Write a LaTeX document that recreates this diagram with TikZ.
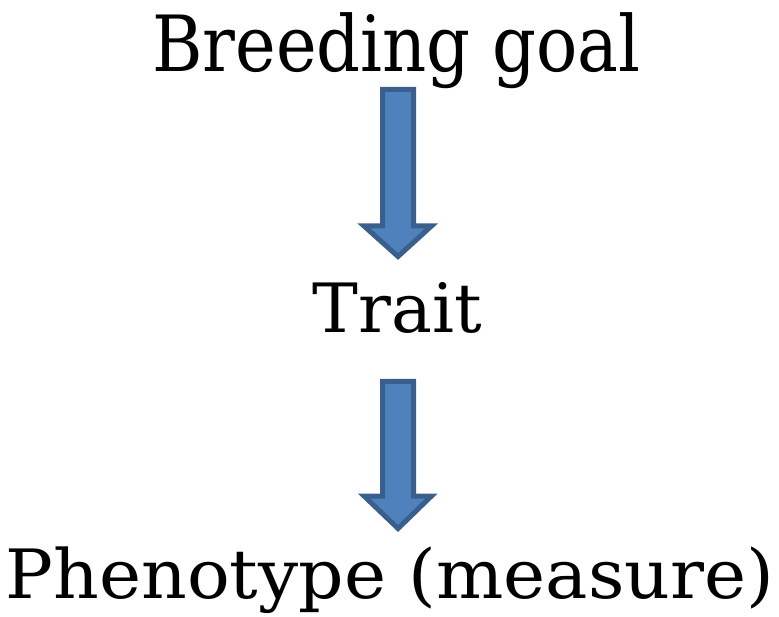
\documentclass[tikz,border=0pt]{standalone}
\usepackage{fontspec}
\setmainfont{DejaVu Serif}
\definecolor{arrowfill}{HTML}{4F81BD}
\definecolor{arrowline}{HTML}{3A5F8D}
\begin{document}
\begin{tikzpicture}[x=1pt,y=-1pt,
  label/.style={inner sep=0pt,anchor=base,font=\fontsize{68}{80}\selectfont},
  blockarrow/.style={fill=arrowfill,draw=arrowline,line width=5pt,line join=miter}]
\useasboundingbox (0,0) rectangle (779,617);
% labels
\node[label,xscale=1.01,yscale=1.14] (goal) at (396.5,71.5) {Breeding goal};
\node[label,xscale=1.01] (trait) at (397.5,333) {Trait};
\node[label,xscale=1.045] (pheno) at (390,598) {Phenotype (measure)};
% block arrows
\coordinate (a1) at (398,89.5);
\coordinate (a2) at (398,381.5);
\draw[blockarrow] (a1) ++(-15.5,0) -- ++(31,0) -- ++(0,136.5) -- ++(18,0)
  -- (398,256.5) -- (364,226) -- ++(18.5,0) -- cycle;
\draw[blockarrow] (a2) ++(-15.5,0) -- ++(31,0) -- ++(0,114.5) -- ++(18,0)
  -- (398,528.5) -- (364,496) -- ++(18.5,0) -- cycle;
\end{tikzpicture}
\end{document}
